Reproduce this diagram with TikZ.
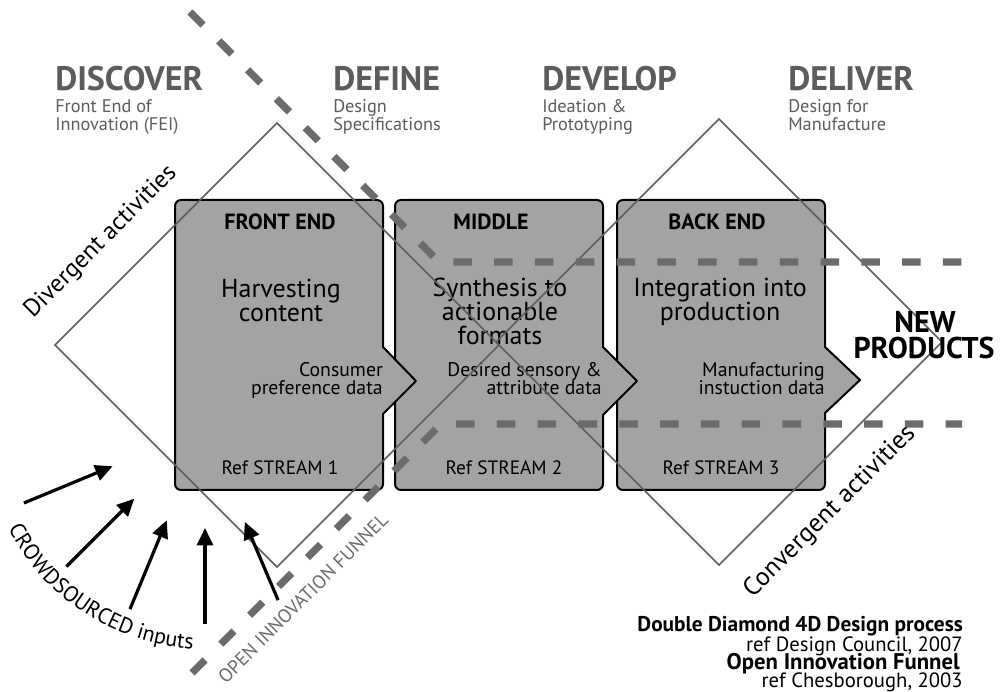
\documentclass[tikz,border=0pt]{standalone}
\usepackage{fontspec}
\setmainfont{PT Sans}
\usetikzlibrary{arrows.meta,decorations.text,calc}
\definecolor{hdrgray}{HTML}{5C5C5C}
\definecolor{boxgray}{HTML}{A3A3A3}
\definecolor{dashgray}{HTML}{6B6B6B}
\definecolor{diamgray}{HTML}{5E5E5E}
\newcommand{\fs}[1]{\fontsize{#1}{#1}\selectfont}
\tikzset{
  txt/.style={anchor=base, inner sep=0pt},
  txtw/.style={anchor=base west, inner sep=0pt},
  txte/.style={anchor=base east, inner sep=0pt},
  hdr/.style={txtw, text=hdrgray, font=\fs{25.5}\bfseries},
  sub/.style={txtw, text=hdrgray, font=\fs{13.7}},
  boxhead/.style={txt, font=\fs{16.5}\bfseries},
  boxmain/.style={txt, font=\fs{19.5}},
  boxdata/.style={txte, font=\fs{14.8}},
  boxref/.style={txt, font=\fs{14.5}},
  stagebox/.style={fill=boxgray, draw=black, line width=1.5pt, line join=round},
  diam/.style={draw=diamgray, line width=1.2pt},
  funnel/.style={draw=dashgray, line width=5.5pt, dash pattern=on 13.9pt off 16.7pt},
  crowd/.style={line width=2.4pt, -{Triangle[length=13pt,width=12pt]}},
}
\begin{document}
\begin{tikzpicture}[x=0.75pt,y=0.75pt]
\fill[white] (0,0) rectangle (1000,692);
\useasboundingbox (0,0) rectangle (1000,692);

% stage boxes (back to front)
\draw[stagebox] (825,345) -- (860,312) -- (825,279) [rounded corners=4.5pt] -- (825,202) -- (617,202) -- (617,492) -- (825,492) [sharp corners] -- cycle;
\draw[stagebox] (603,345) -- (637,311) -- (603,277) [rounded corners=4.5pt] -- (603,202) -- (395,202) -- (395,492) -- (603,492) [sharp corners] -- cycle;
\draw[stagebox] (383,345) -- (416,311) -- (383,278) [rounded corners=4.5pt] -- (383,202) -- (175,202) -- (175,492) -- (383,492) [sharp corners] -- cycle;

% headings
\node[hdr] (discover) at (55,601) {DISCOVER};
\node[sub] (discover1) at (55,579) {Front End of};
\node[sub] (discover2) at (55,561) {Innovation (FEI)};
\node[hdr] (define) at (333,601) {DEFINE};
\node[sub] (define1) at (333,579) {Design};
\node[sub] (define2) at (333,561) {Specifications};
\node[hdr] (develop) at (542,601) {DEVELOP};
\node[sub] (develop1) at (542,579) {Ideation \&};
\node[sub] (develop2) at (542,561) {Prototyping};
\node[hdr] (deliver) at (788,601) {DELIVER};
\node[sub] (deliver1) at (788,579) {Design for};
\node[sub] (deliver2) at (788,561) {Manufacture};

% box texts
\node[boxhead] (fe) at (280,462) {FRONT END};
\node[boxhead] (mid) at (491,462) {MIDDLE};
\node[boxhead] (be) at (717,462) {BACK END};
\node[boxmain] (h1) at (281,394) {Harvesting};
\node[boxmain] (h2) at (281,370) {content};
\node[boxmain] (s1) at (500,395) {Synthesis to};
\node[boxmain] (s2) at (500,371) {actionable};
\node[boxmain] (s3) at (500,347) {formats};
\node[boxmain] (i1) at (720,395) {Integration into};
\node[boxmain] (i2) at (720,371) {production};
\node[boxdata] (c1) at (383,315) {Consumer};
\node[boxdata] (c2) at (383,297) {preference data};
\node[boxdata] (d1) at (602,315) {Desired sensory \&};
\node[boxdata] (d2) at (602,297) {attribute data};
\node[boxdata] (m1) at (825,315) {Manufacturing};
\node[boxdata] (m2) at (825,297) {instuction data};
\node[boxref] (r1) at (280,217) {Ref STREAM 1};
\node[boxref] (r2) at (504,217) {Ref STREAM 2};
\node[boxref] (r3) at (721,217) {Ref STREAM 3};

% diamonds
\draw[diam] (55,347) -- (277,569) -- (499,347) -- (277,125) -- cycle;
\draw[diam] (496,350) -- (719,573) -- (942,350) -- (719,127) -- cycle;

% open innovation funnel
\coordinate (ua) at (190,680);
\coordinate (uc) at (439,430);
\coordinate (ub) at (962,430);
\coordinate (la) at (192,19);
\coordinate (lc) at (441,268);
\coordinate (lb) at (962,268);
\draw[funnel] (ua) -- (uc) -- (ub);
\draw[funnel] (la) -- (lc) -- (lb);

% new products
\node[txt, font=\fs{22.5}\bfseries] (np1) at (925,359) {NEW};
\node[txt, font=\fs{22.5}\bfseries] (np2) at (924,333) {PRODUCTS};

% rotated labels
\node[inner sep=0pt, rotate=45, font=\fs{18.5}] (div) at (101,450) {Divergent activities};
\node[inner sep=0pt, rotate=45, font=\fs{19.3}] (conv) at (830,180) {Convergent activities};
\node[inner sep=0pt, rotate=45, font=\fs{14.3}, text=dashgray] (oif) at (303,94) {OPEN INNOVATION FUNNEL};

% crowdsourced inputs
\coordinate (cc) at (205,264);
\foreach \a/\ri/\ro [count=\k] in {202.5/100/196, 225/100/196, 247.5/100/196, 270/100/196, 293/102/187}{
  \coordinate (ct\k) at ($(cc)+(\a:\ri)$);
  \coordinate (cs\k) at ($(cc)+(\a:\ro)$);
}
\draw[crowd] (cs1) -- (ct1);
\draw[crowd] (cs2) -- (ct2);
\draw[crowd] (cs3) -- (ct3);
\draw[crowd] (cs4) -- (ct4);
\draw[crowd] (cs5) -- (ct5);
\path[decorate, decoration={text along path, text align=center,
  text={|\fs{16.5}|CROWDSOURCED inputs}}]
  (cc) ++(195:221) arc[start angle=195, end angle=279, radius=221];

% credits
\node[txte, font=\fs{16}\bfseries] (cr1) at (963,60) {Double Diamond 4D Design process};
\node[txte, font=\fs{15.5}] (cr2) at (963,40) {ref Design Council, 2007};
\node[txte, font=\fs{17}\bfseries] (cr3) at (960,22) {Open Innovation Funnel};
\node[txte, font=\fs{15.5}] (cr4) at (963,4) {ref Chesborough, 2003};
\end{tikzpicture}
\end{document}
